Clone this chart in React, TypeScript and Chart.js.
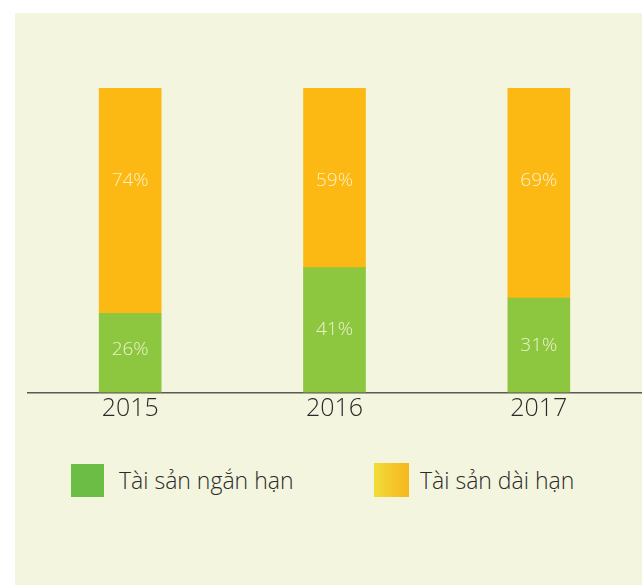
import React, { useEffect, useRef } from "react";
import { Chart, registerables } from "chart.js";

Chart.register(...registerables);

const categories = ["2015", "2016", "2017"];
const shortTerm = [26, 41, 31];
const longTerm = [74, 59, 69];
const seriesNames = ["Tài sản ngắn hạn", "Tài sản dài hạn"];

const FONT = "'Open Sans', 'Noto Sans', sans-serif";
const PANEL = "#F4F5DF";
const GREEN = "#8DC63F";
const ORANGE = "#FDB913";

const labelPlugin = {
  id: "segLabels",
  afterDatasetsDraw(chart: any) {
    const ctx = chart.ctx;
    const yScale = chart.scales.y;
    ctx.save();
    ctx.font = `300 19px ${FONT}`;
    ctx.fillStyle = "rgba(250,250,232,0.85)";
    ctx.textAlign = "center";
    ctx.textBaseline = "middle";
    chart.data.datasets.forEach((ds: any, di: number) => {
      const meta = chart.getDatasetMeta(di);
      meta.data.forEach((bar: any, i: number) => {
        const v = ds.data[i];
        let y: number;
        if (di === 0) {
          y = Math.min((bar.y + bar.base) / 2, bar.base - 43);
        } else {
          y = yScale.getPixelForValue(100) + 93;
        }
        ctx.fillText(`${v}%`, bar.x, y);
      });
    });
    ctx.restore();
  },
};

export default function App() {
  const ref = useRef<HTMLCanvasElement | null>(null);
  useEffect(() => {
    if (!ref.current) return;
    const chart = new Chart(ref.current, {
      type: "bar",
      data: {
        labels: categories,
        datasets: [
          { label: seriesNames[0], data: shortTerm, backgroundColor: GREEN, barThickness: 62 },
          { label: seriesNames[1], data: longTerm, backgroundColor: ORANGE, barThickness: 62 },
        ],
      },
      options: {
        animation: false,
        responsive: false,
        maintainAspectRatio: false,
        layout: { padding: { left: 28, right: 1, top: 88, bottom: 8 } },
        plugins: { legend: { display: false }, tooltip: { enabled: false } },
        scales: {
          x: {
            stacked: true,
            grid: { display: false, drawTicks: false },
            border: { display: true, color: "#5a5a55", width: 1.5 },
            ticks: { color: "#2a2a2a", font: { family: FONT, size: 25, weight: "300", lineHeight: 1.1 }, padding: 3 },
          },
          y: { stacked: true, display: false, min: 0, max: 100 },
        },
      },
      plugins: [labelPlugin],
    });
    return () => chart.destroy();
  }, []);

  const textStyle: React.CSSProperties = {
    position: "absolute",
    fontFamily: FONT,
    fontSize: 23,
    fontWeight: 300,
    color: "#2a2a2a",
    lineHeight: "34px",
    whiteSpace: "nowrap",
  };

  return (
    <div style={{ position: "fixed", left: 0, top: 0, width: 642, height: 585, background: "#fff", overflow: "hidden" }}>
      <div style={{ position: "absolute", left: 15, top: 13, width: 627, height: 572, background: PANEL }} />
      <canvas ref={ref} width={642} height={434} style={{ position: "absolute", left: 0, top: 0, width: 642, height: 434 }} />
      <div style={{ position: "absolute", left: 71, top: 464, width: 33, height: 33, background: "#6CBD45" }} />
      <div style={{ ...textStyle, left: 119, top: 463 }}>{seriesNames[0]}</div>
      <div style={{ position: "absolute", left: 374, top: 463, width: 35, height: 34, background: "linear-gradient(to right, #F2DC3B, #F6B61D)" }} />
      <div style={{ ...textStyle, left: 420, top: 463 }}>{seriesNames[1]}</div>
    </div>
  );
}
